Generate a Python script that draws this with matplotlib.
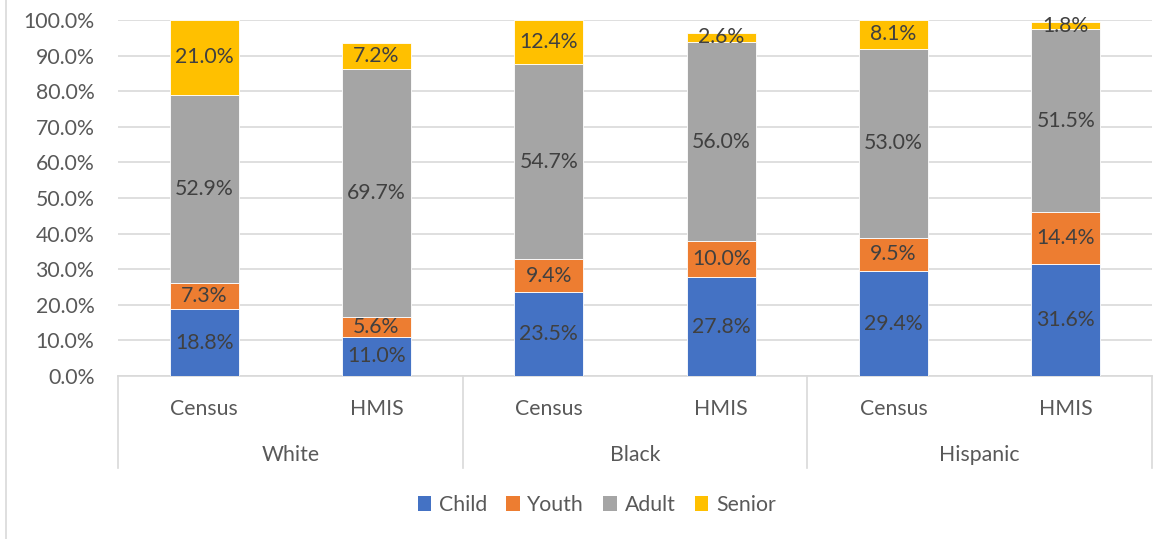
import matplotlib.pyplot as plt
import numpy as np
from matplotlib.lines import Line2D
from matplotlib.patches import Patch

plt.rcParams['font.family'] = ['Lato', 'DejaVu Sans']

groups = ["White", "Black", "Hispanic"]
sources = ["Census", "HMIS", "Census", "HMIS", "Census", "HMIS"]
series = ["Child", "Youth", "Adult", "Senior"]
child = [18.8, 11.0, 23.5, 27.8, 29.4, 31.6]
youth = [7.3, 5.6, 9.4, 10.0, 9.5, 14.4]
adult = [52.9, 69.7, 54.7, 56.0, 53.0, 51.5]
senior = [21.0, 7.2, 12.4, 2.6, 8.1, 1.8]
colors = ["#4472C4", "#ED7D31", "#A5A5A5", "#FFC000"]

fs = 15.3
fig = plt.figure(figsize=(11.72, 5.39), dpi=100)
ax = fig.add_axes([118/1172, 1-376/539, (1152-118)/1172, 356/539])

x = np.arange(len(sources))
bottom = np.zeros(len(sources))
for vals, c in zip([child, youth, adult, senior], colors):
    vals = np.array(vals)
    ax.bar(x, vals, 0.4, bottom=bottom, color=c, edgecolor="white", linewidth=0.6, zorder=3)
    for xi, b, v in zip(x, bottom, vals):
        ax.text(xi, b + v/2, "%.1f%%" % v, ha="center", va="center", fontsize=fs, color="#404040", zorder=4)
    bottom += vals

ax.set_xlim(-0.5, 5.5)
ax.set_ylim(0, 100)
ax.set_yticks(np.arange(0, 101, 10))
ax.set_yticklabels(["%.1f%%" % v for v in np.arange(0, 101, 10)], fontsize=fs, color="#595959")
ax.yaxis.grid(True, color="#D9D9D9", linewidth=1.2, zorder=0)
ax.tick_params(axis="y", length=0, pad=17)
ax.set_xticks([])
for s in ["top", "right", "left"]:
    ax.spines[s].set_visible(False)
ax.spines["bottom"].set_color("#D9D9D9")
ax.spines["bottom"].set_linewidth(1.2)

# multi-level category axis
trans = ax.get_xaxis_transform()
for xs in [-0.5, 1.5, 3.5, 5.5]:
    ax.add_line(Line2D([xs, xs], [0, -0.258], transform=trans, color="#D9D9D9", linewidth=1.2, clip_on=False))
for xi, s in zip(x, sources):
    ax.text(xi, -0.092, s, transform=trans, ha="center", va="center", fontsize=fs, color="#595959")
for i, g in enumerate(groups):
    ax.text(2*i + 0.5, -0.222, g, transform=trans, ha="center", va="center", fontsize=fs, color="#595959")

handles = [Patch(facecolor=c) for c in colors]
fig.legend(handles, series, loc="center", bbox_to_anchor=(0.509, 1-505/539), ncol=4, frameon=False,
           fontsize=fs, labelcolor="#595959", handlelength=0.65, handleheight=0.65, handletextpad=0.35, columnspacing=0.9)

fig.add_artist(Line2D([6/1172, 6/1172], [0, 1], transform=fig.transFigure, color="#D9D9D9", linewidth=1.2))

fig.savefig("out.png", dpi=100)
